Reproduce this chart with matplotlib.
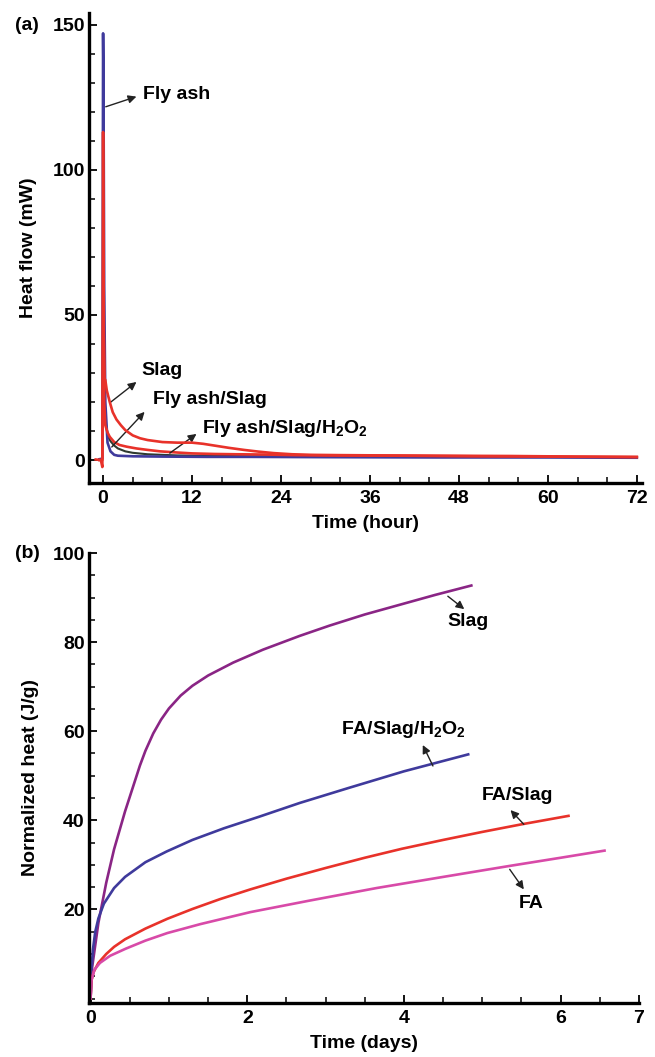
import numpy as np
import matplotlib
matplotlib.use("Agg")
import matplotlib.pyplot as plt
from matplotlib.ticker import MultipleLocator, FixedLocator

plt.rcParams['font.family'] = ['Liberation Sans', 'DejaVu Sans']
plt.rcParams['font.weight'] = 'bold'
plt.rcParams['axes.labelweight'] = 'bold'
plt.rcParams['mathtext.fontset'] = 'custom'
plt.rcParams['mathtext.rm'] = 'Liberation Sans:bold'

# ---- panel (a): heat flow (mW) vs time (hour) ----
fa_t = [-0.5, -0.1, 0.0, 0.05, 0.15, 0.3, 0.6, 1.0, 1.5, 2, 4, 8, 14, 20, 30, 45, 60, 72]
fa_v = [0.3, 0.5, 147, 134, 60, 20, 6, 3, 1.8, 1.5, 1.3, 1.2, 1.1, 1.1, 1.0, 0.9, 0.9, 0.8]

slag_t = [-1.0, -0.3, -0.1, 0.0, 0.1, 0.2, 0.3, 0.5, 0.9, 1.3, 1.8, 2.4, 3.0, 4.0, 5.0, 6.0,
          8.0, 10, 12, 13.5, 15, 17, 19, 21, 23, 25.5, 28, 32, 38, 45, 55, 64, 72]
slag_v = [0.2, 0, -2.4, 113, 45, 28, 27.6, 24, 20, 16.5, 14, 12, 10.3, 8.5, 7.5, 6.9,
          6.2, 6.0, 6.0, 5.6, 5.0, 4.2, 3.5, 2.9, 2.4, 2.0, 1.8, 1.7, 1.6, 1.5, 1.4, 1.2, 1.1]

fas_t = [0.1, 0.2, 0.4, 0.7, 1.0, 1.5, 2.0, 3, 4, 6, 10, 20, 40, 72]
fas_v = [30, 20, 12, 8, 6.5, 5.0, 4.0, 3.0, 2.5, 2.0, 1.6, 1.3, 1.1, 1.0]

fash_t = [-0.5, -0.1, 0.05, 0.15, 0.3, 0.6, 0.9, 1.5, 2.2, 3.2, 4.5, 6, 7.7, 10, 12, 15,
          18, 22, 26, 30, 40, 50, 60, 72]
fash_v = [0, 0, 55, 20, 12, 9.5, 8, 6.2, 5.2, 4.6, 4.0, 3.5, 3.0, 2.6, 2.3, 2.1,
          2.0, 1.9, 1.7, 1.6, 1.5, 1.3, 1.2, 1.0]

# ---- panel (b): normalized heat (J/g) vs time (days) ----
b_slag_t = [0, 0.02, 0.1, 0.2, 0.3, 0.44, 0.56, 0.63, 0.7, 0.8, 0.9, 1.0, 1.15, 1.3, 1.5,
            1.82, 2.2, 2.67, 3.05, 3.5, 3.95, 4.4, 4.86]
b_slag_v = [0, 7, 17, 26, 33.5, 42, 48.5, 52.3, 55.6, 59.5, 62.6, 65.1, 68, 70.2, 72.5,
            75.4, 78.3, 81.4, 83.7, 86.2, 88.4, 90.6, 92.7]

b_h2o2_t = [0, 0.01, 0.03, 0.06, 0.1, 0.17, 0.3, 0.44, 0.7, 0.97, 1.3, 1.7, 2.15, 2.67,
            3.3, 4.0, 4.82]
b_h2o2_v = [0, 6, 11, 15, 18, 21.3, 24.8, 27.3, 30.6, 33, 35.6, 38.2, 40.8, 43.9,
            47.3, 51.0, 54.8]

b_fas_t = [0, 0.01, 0.04, 0.1, 0.2, 0.3, 0.44, 0.7, 0.98, 1.3, 1.65, 2.04, 2.5, 3.0,
           3.5, 3.97, 4.5, 5.0, 5.5, 6.1]
b_fas_v = [0, 4, 6, 8, 10, 11.6, 13.3, 15.7, 17.9, 20.1, 22.3, 24.5, 26.9, 29.3,
           31.6, 33.6, 35.6, 37.4, 39.1, 41.0]

b_fa_t = [0, 0.01, 0.05, 0.12, 0.25, 0.45, 0.7, 0.98, 1.4, 2.04, 2.8, 3.65, 4.5, 5.36,
          6.0, 6.56]
b_fa_v = [0, 4, 6.5, 8, 9.6, 11.2, 13, 14.7, 16.7, 19.4, 22.0, 24.8, 27.3, 29.8,
          31.6, 33.2]

BLUE = '#3f3a9c'
RED = '#e8322a'
DARK = '#2f3a30'
PURPLE = '#8a2585'
PINK = '#d84aa8'

W, H = 655, 1057
fig = plt.figure(figsize=(W / 100, H / 100), dpi=100)

def px_axes(l, t, r, b):
    return fig.add_axes([l / W, 1 - b / H, (r - l) / W, (b - t) / H])

FS = 14
LW = 1.9

def style(ax):
    for s in ['top', 'right']:
        ax.spines[s].set_visible(False)
    for s in ['left', 'bottom']:
        ax.spines[s].set_linewidth(2.4)
    ax.tick_params(which='major', direction='in', length=6, width=1.3, labelsize=FS, pad=5)
    ax.tick_params(which='minor', direction='in', length=4, width=1.1)
    ax.tick_params(axis='y', which='major', pad=3)

arrow = dict(arrowstyle='-|>', color='#222222', lw=1.0, mutation_scale=12, shrinkA=0, shrinkB=0)

# panel (a)
ax1 = px_axes(89, 13, 642, 483)
ax1.plot(fa_t, fa_v, color=BLUE, lw=LW, zorder=2)
ax1.plot(fas_t, fas_v, color=DARK, lw=1.5, zorder=1)
ax1.plot(fash_t, fash_v, color=RED, lw=LW, zorder=3)
ax1.plot(slag_t, slag_v, color=RED, lw=LW, zorder=4)
ax1.set_xlim(-1.9, 72.7)
ax1.set_ylim(-7.9, 154)
ax1.xaxis.set_major_locator(MultipleLocator(12))
ax1.xaxis.set_minor_locator(MultipleLocator(4))
ax1.yaxis.set_major_locator(MultipleLocator(50))
ax1.yaxis.set_minor_locator(MultipleLocator(10))
style(ax1)
ax1.set_xlabel('Time (hour)', fontsize=FS, labelpad=6)
ax1.set_ylabel('Heat flow (mW)', fontsize=FS)
ax1.yaxis.set_label_coords(-0.094, 0.5)

ax1.annotate('', xy=(4.5, 125.2), xytext=(0.36, 121.7), arrowprops=arrow)
ax1.text(5.35, 125.9, 'Fly ash', fontsize=FS, va='center', ha='left')
ax1.annotate('', xy=(4.5, 26.9), xytext=(0.9, 19.7), arrowprops=arrow)
ax1.text(5.2, 31, 'Slag', fontsize=FS, va='center', ha='left')
ax1.annotate('', xy=(5.6, 16.6), xytext=(1.17, 4.5), arrowprops=arrow)
ax1.text(6.7, 20.7, 'Fly ash/Slag', fontsize=FS, va='center', ha='left')
ax1.annotate('', xy=(12.6, 9.0), xytext=(9.0, 2.4), arrowprops=arrow)
ax1.text(13.4, 11, r'Fly ash/Slag/H$_2$O$_2$', fontsize=FS, va='center', ha='left')

# panel (b)
ax2 = px_axes(89, 553, 639, 1003)
ax2.plot(b_slag_t, b_slag_v, color=PURPLE, lw=LW)
ax2.plot(b_h2o2_t, b_h2o2_v, color=BLUE, lw=LW)
ax2.plot(b_fas_t, b_fas_v, color=RED, lw=LW)
ax2.plot(b_fa_t, b_fa_v, color=PINK, lw=LW)
ax2.set_xlim(-0.02, 7.0)
ax2.set_ylim(-1, 100)
ax2.xaxis.set_major_locator(FixedLocator([0, 2, 4, 6, 7]))
ax2.xaxis.set_minor_locator(MultipleLocator(0.5))
ax2.yaxis.set_major_locator(FixedLocator([20, 40, 60, 80, 100]))
ax2.yaxis.set_minor_locator(MultipleLocator(5))
style(ax2)
ax2.set_xlabel('Time (days)', fontsize=FS, labelpad=6)
ax2.set_ylabel('Normalized heat (J/g)', fontsize=FS)
ax2.yaxis.set_label_coords(-0.091, 0.5)

ax2.annotate('', xy=(4.77, 87.4), xytext=(4.56, 90.3), arrowprops=arrow)
ax2.text(4.56, 84.6, 'Slag', fontsize=FS, va='center', ha='left')
ax2.annotate('', xy=(4.24, 56.9), xytext=(4.37, 52.2), arrowprops=arrow)
ax2.text(3.2, 60.4, r'FA/Slag/H$_2$O$_2$', fontsize=FS, va='center', ha='left')
ax2.annotate('', xy=(5.36, 42.3), xytext=(5.53, 39.1), arrowprops=arrow)
ax2.text(4.99, 45.5, 'FA/Slag', fontsize=FS, va='center', ha='left')
ax2.annotate('', xy=(5.53, 24.5), xytext=(5.35, 29), arrowprops=arrow)
ax2.text(5.47, 21.3, 'FA', fontsize=FS, va='center', ha='left')

fig.text(15 / W, 1 - 25 / H, '(a)', fontsize=FS, va='center', ha='left')
fig.text(15 / W, 1 - 553 / H, '(b)', fontsize=FS, va='center', ha='left')

fig.savefig('out.png', dpi=100, facecolor='white')
